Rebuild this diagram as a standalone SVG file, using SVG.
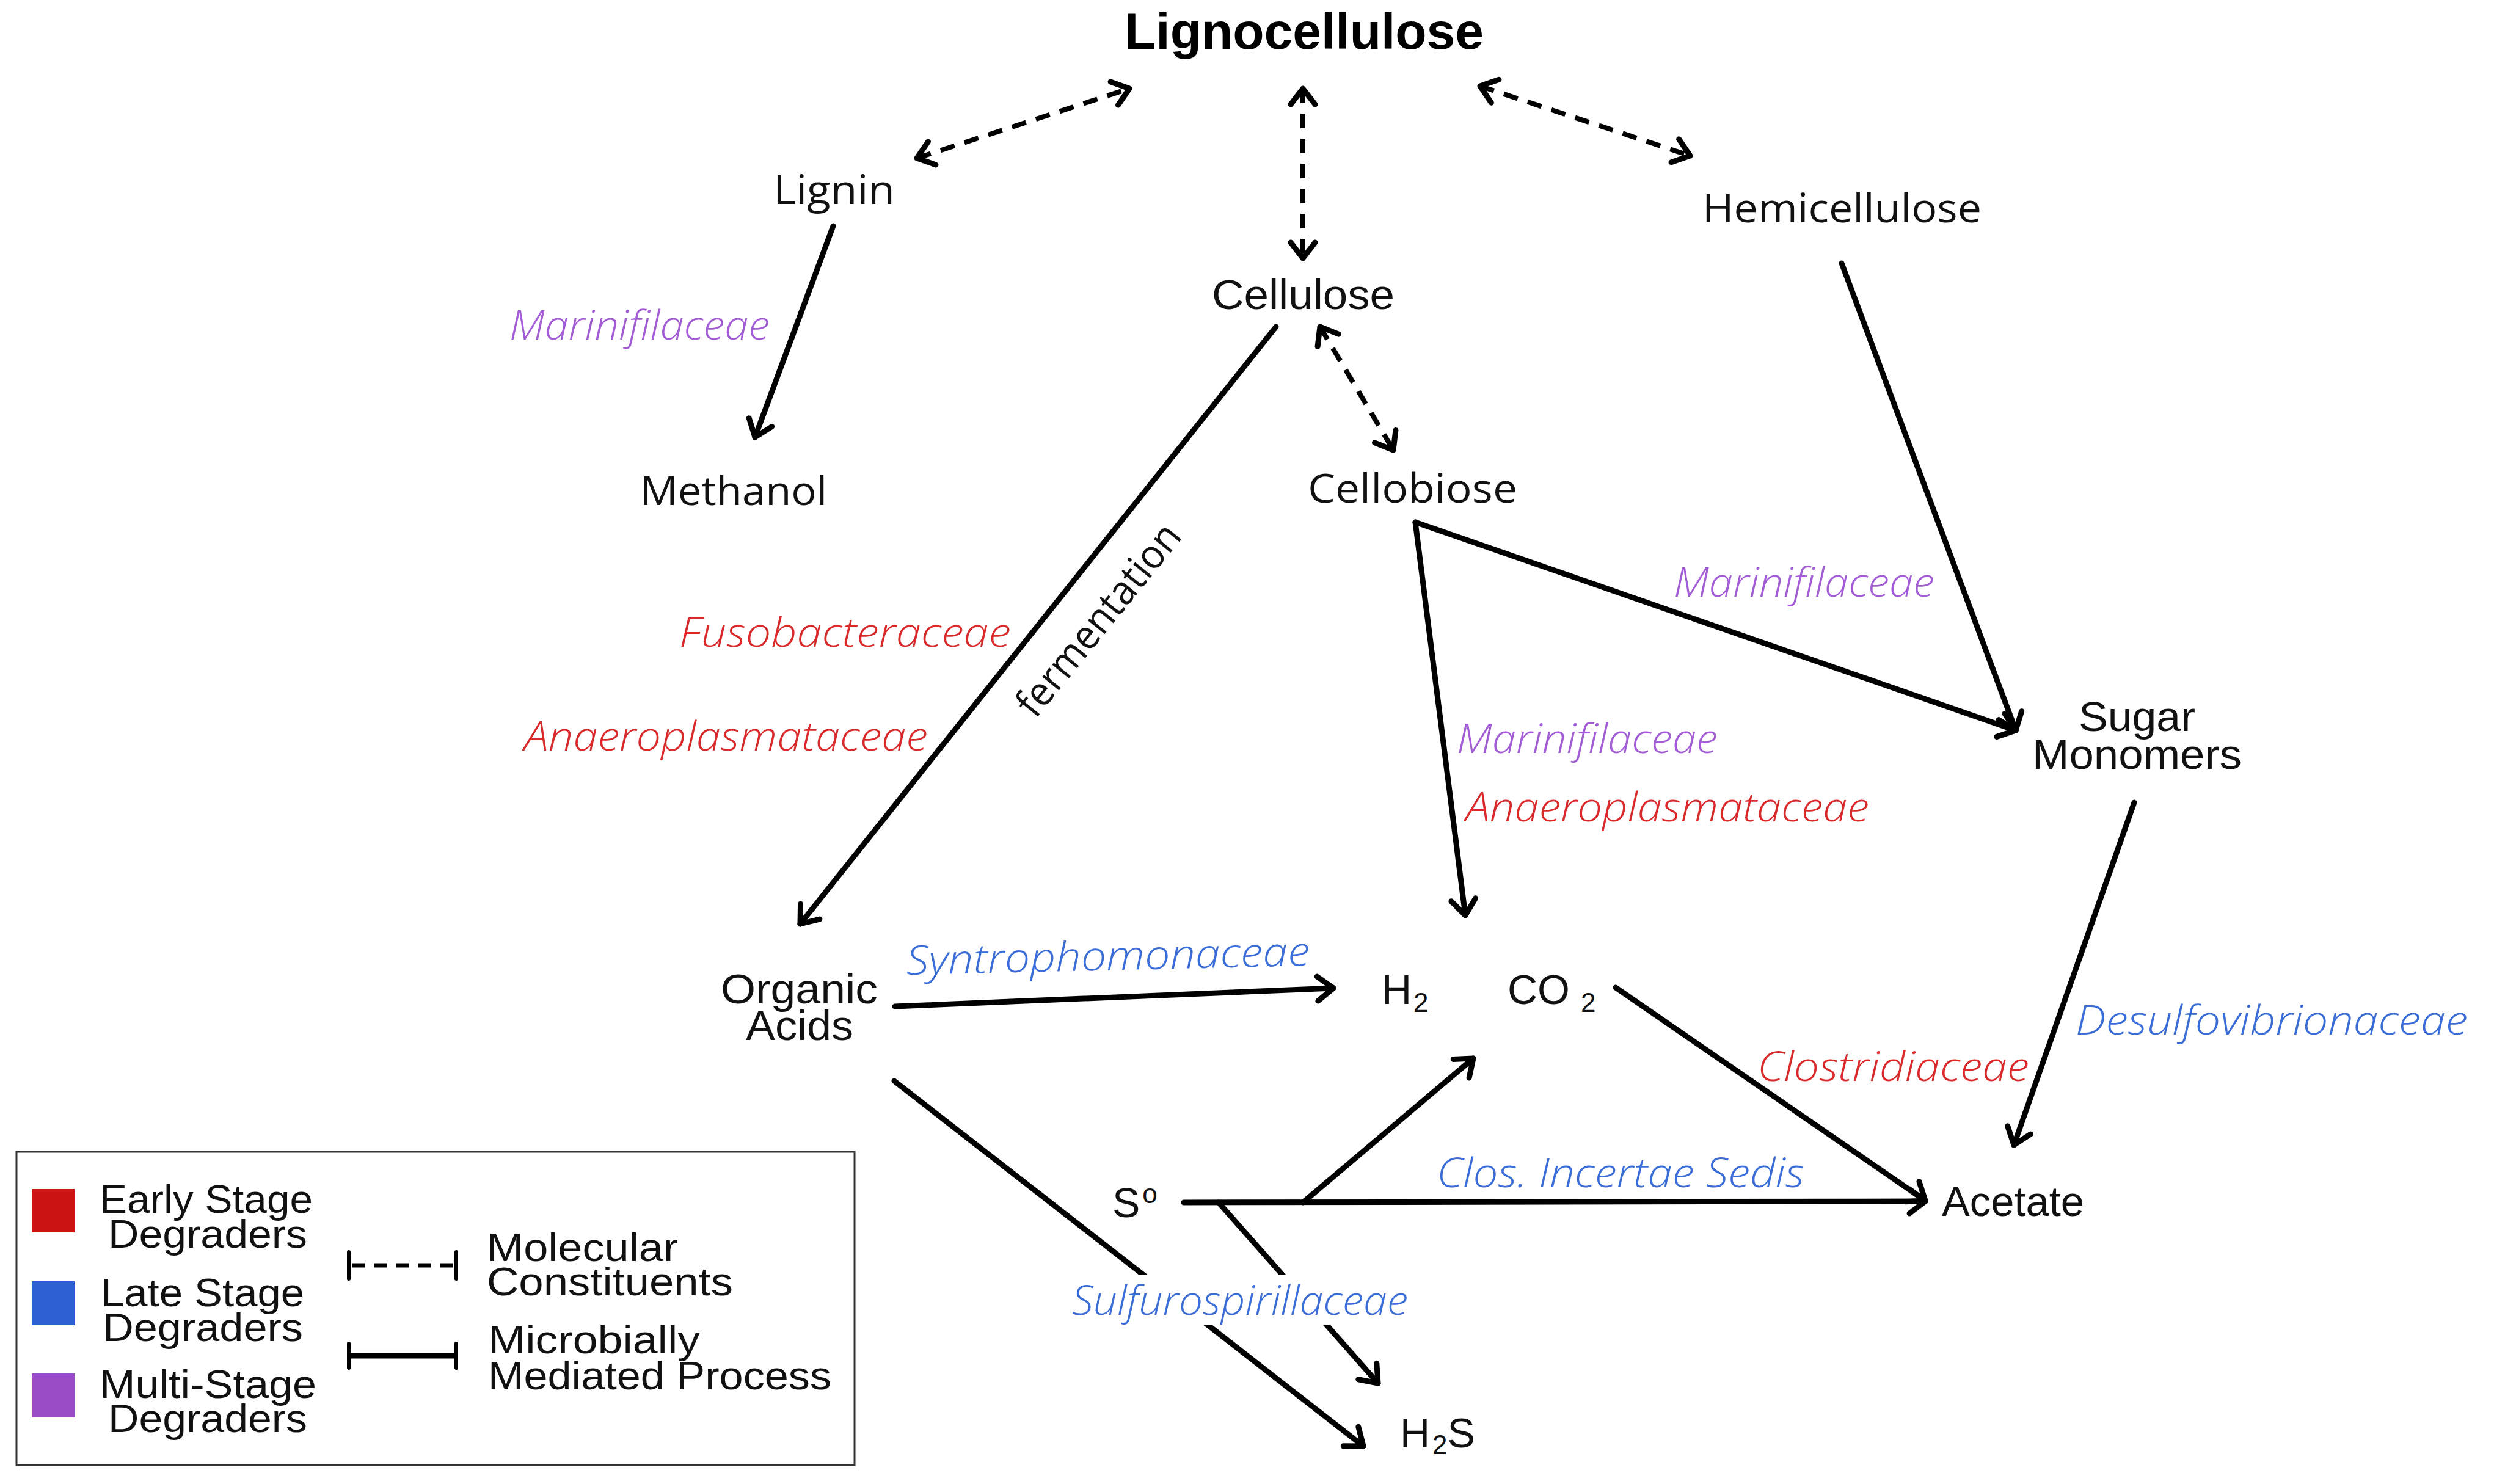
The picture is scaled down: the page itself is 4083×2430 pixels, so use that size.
<svg xmlns="http://www.w3.org/2000/svg" width="4083" height="2430" viewBox="0 0 4083 2430">
<style>
  .bg { fill: #ffffff; }
  .nodeL { font-family: "Liberation Sans", Arial, sans-serif; font-size: 68px; fill: #111; }
  .nodeO { font-family: "Open Sans", "Liberation Sans", sans-serif; font-size: 66px; fill: #111; }
  .title { font-family: "Liberation Sans", Arial, sans-serif; font-size: 84px; font-weight: bold; fill: #000; }
  .sub { font-size: 44px; }
  .lab { font-family: "Open Sans", "Liberation Sans", sans-serif; font-style: italic; font-weight: 300; font-size: 66px; }
  .red { fill: #d9292b; }
  .blue { fill: #3a6dd8; }
  .purple { fill: #a25cd6; }
  .leg { font-family: "Liberation Sans", Arial, sans-serif; font-size: 64px; fill: #111; }
  .solid { fill: none; stroke: #000; stroke-width: 9; stroke-linecap: round; }
  .dash { fill: none; stroke: #000; stroke-width: 8; stroke-dasharray: 24 17; }
  .arrowS { marker-end: url(#ah); }
  .arrowD { marker-start: url(#ah); marker-end: url(#ah); }
</style>
<defs>
  <marker id="ah" viewBox="-40 -30 50 60" markerWidth="50" markerHeight="60" refX="0" refY="0" orient="auto-start-reverse" markerUnits="userSpaceOnUse">
    <path d="M-26,-20 L0,0 L-26,20" fill="none" stroke="#000" stroke-width="9" stroke-linecap="round" stroke-linejoin="round"/>
  </marker>
</defs>
<rect class="bg" x="0" y="0" width="4083" height="2430"/>

<g id="connectors">
  <line class="dash arrowD" x1="1501" y1="259" x2="1849" y2="145"/>
  <line class="dash arrowD" x1="2133" y1="145" x2="2133" y2="423"/>
  <line class="dash arrowD" x1="2423" y1="141" x2="2767" y2="255"/>
  <line class="dash arrowD" x1="2161" y1="535" x2="2281" y2="737"/>

  <line class="solid arrowS" x1="1364" y1="370" x2="1236" y2="716"/>
  <line class="solid arrowS" x1="2089" y1="535" x2="1310" y2="1513"/>
  <line class="solid arrowS" x1="3015" y1="431" x2="3300" y2="1196"/>
  <line class="solid arrowS" x1="2317" y1="855" x2="3300" y2="1196"/>
  <line class="solid arrowS" x1="2317" y1="855" x2="2399" y2="1499"/>
  <line class="solid arrowS" x1="1465" y1="1648" x2="2183" y2="1618"/>
  <line class="solid arrowS" x1="1464" y1="1770" x2="2232" y2="2368"/>
  <line class="solid arrowS" x1="1995" y1="1969" x2="2256" y2="2265"/>
  <line class="solid arrowS" x1="1938" y1="1969" x2="3152" y2="1967"/>
  <line class="solid arrowS" x1="2133" y1="1969" x2="2412" y2="1733"/>
  <line class="solid arrowS" x1="2645" y1="1617" x2="3152" y2="1966"/>
  <line class="solid arrowS" x1="3494" y1="1314" x2="3297" y2="1875"/>
</g>

<g id="node-lignocellulose"><text class="title" x="1841" y="80" textLength="588" lengthAdjust="spacingAndGlyphs">Lignocellulose</text></g>
<g id="node-lignin"><text class="nodeO" x="1266" y="334" textLength="199" lengthAdjust="spacingAndGlyphs">Lignin</text></g>
<g id="node-hemicellulose"><text class="nodeO" x="2787" y="364" textLength="457" lengthAdjust="spacingAndGlyphs">Hemicellulose</text></g>
<g id="node-cellulose"><text class="nodeL" x="1984" y="506" textLength="299" lengthAdjust="spacingAndGlyphs">Cellulose</text></g>
<g id="node-methanol"><text class="nodeO" x="1048" y="827" textLength="306" lengthAdjust="spacingAndGlyphs">Methanol</text></g>
<g id="node-cellobiose"><text class="nodeO" x="2141" y="823" textLength="343" lengthAdjust="spacingAndGlyphs">Cellobiose</text></g>
<g id="node-sugar-monomers">
  <text class="nodeL" x="3403" y="1197" textLength="191" lengthAdjust="spacingAndGlyphs">Sugar</text>
  <text class="nodeL" x="3327" y="1259" textLength="343" lengthAdjust="spacingAndGlyphs">Monomers</text>
</g>
<g id="node-organic-acids">
  <text class="nodeL" x="1180" y="1643" textLength="257" lengthAdjust="spacingAndGlyphs">Organic</text>
  <text class="nodeL" x="1221" y="1703" textLength="176" lengthAdjust="spacingAndGlyphs">Acids</text>
</g>
<g id="node-h2"><text class="nodeL" x="2262" y="1644" font-size="66">H<tspan class="sub" dx="3" dy="13">2</tspan></text></g>
<g id="node-co2"><text class="nodeL" x="2468" y="1644" font-size="66">CO<tspan class="sub" dx="18" dy="13">2</tspan></text></g>
<g id="node-acetate"><text class="nodeL" x="3179" y="1991" textLength="233" lengthAdjust="spacingAndGlyphs">Acetate</text></g>
<g id="node-s0"><text class="nodeL" x="1821" y="1993" font-size="66">S<tspan class="sub" dx="4" dy="-23">o</tspan></text></g>
<g id="node-h2s"><text class="nodeL" x="2292" y="2370" font-size="66">H<tspan class="sub" dx="4" dy="11">2</tspan><tspan dy="-11">S</tspan></text></g>

<g id="labels">
  <text class="lab purple" x="834" y="556" textLength="426" lengthAdjust="spacingAndGlyphs">Marinifilaceae</text>
  <text class="lab red" x="1112" y="1059" textLength="543" lengthAdjust="spacingAndGlyphs">Fusobacteraceae</text>
  <text class="lab red" x="858" y="1229" textLength="661" lengthAdjust="spacingAndGlyphs">Anaeroplasmataceae</text>
  <text class="nodeO" font-size="62" x="1816" y="1029" text-anchor="middle" textLength="385" lengthAdjust="spacingAndGlyphs" transform="rotate(-51 1816 1029)">fermentation</text>
  <text class="lab purple" x="2740" y="977" textLength="427" lengthAdjust="spacingAndGlyphs">Marinifilaceae</text>
  <text class="lab purple" x="2385" y="1233" textLength="427" lengthAdjust="spacingAndGlyphs">Marinifilaceae</text>
  <text class="lab red" x="2399" y="1345" textLength="661" lengthAdjust="spacingAndGlyphs">Anaeroplasmataceae</text>
  <text class="lab blue" x="1484" y="1596" textLength="661" lengthAdjust="spacingAndGlyphs" transform="rotate(-1.3 1484 1596)">Syntrophomonaceae</text>
  <text class="lab blue" x="3398" y="1694" textLength="642" lengthAdjust="spacingAndGlyphs">Desulfovibrionaceae</text>
  <text class="lab red" x="2877" y="1770" textLength="445" lengthAdjust="spacingAndGlyphs">Clostridiaceae</text>
  <text class="lab blue" x="2352" y="1944" textLength="602" lengthAdjust="spacingAndGlyphs">Clos. Incertae Sedis</text>
  <rect x="1748" y="2088" width="566" height="82" fill="#ffffff"/>
  <text class="lab blue" x="1755" y="2153" textLength="550" lengthAdjust="spacingAndGlyphs">Sulfurospirillaceae</text>
</g>

<g id="legend">
  <rect x="27" y="1886" width="1372" height="513" fill="#ffffff" stroke="#333" stroke-width="3"/>
  <rect x="52" y="1947" width="70" height="71" fill="#cc1414"/>
  <rect x="52" y="2098" width="70" height="72" fill="#2d60d2"/>
  <rect x="52" y="2249" width="70" height="72" fill="#9a4cc6"/>
  <text class="leg" x="163" y="1986" textLength="349" lengthAdjust="spacingAndGlyphs">Early Stage</text>
  <text class="leg" x="177" y="2043" textLength="326" lengthAdjust="spacingAndGlyphs">Degraders</text>
  <text class="leg" x="165" y="2139" textLength="333" lengthAdjust="spacingAndGlyphs">Late Stage</text>
  <text class="leg" x="168" y="2196" textLength="328" lengthAdjust="spacingAndGlyphs">Degraders</text>
  <text class="leg" x="163" y="2289" textLength="355" lengthAdjust="spacingAndGlyphs">Multi-Stage</text>
  <text class="leg" x="177" y="2345" textLength="326" lengthAdjust="spacingAndGlyphs">Degraders</text>
  <line x1="576" y1="2072" x2="742" y2="2072" stroke="#000" stroke-width="7" stroke-dasharray="22 14"/>
  <line x1="571" y1="2050" x2="571" y2="2094" stroke="#000" stroke-width="6" stroke-linecap="round"/>
  <line x1="747" y1="2050" x2="747" y2="2094" stroke="#000" stroke-width="6" stroke-linecap="round"/>
  <line x1="571" y1="2220" x2="747" y2="2220" stroke="#000" stroke-width="9"/>
  <line x1="571" y1="2200" x2="571" y2="2240" stroke="#000" stroke-width="6" stroke-linecap="round"/>
  <line x1="747" y1="2200" x2="747" y2="2240" stroke="#000" stroke-width="6" stroke-linecap="round"/>
  <text class="leg" x="797" y="2065" textLength="313" lengthAdjust="spacingAndGlyphs">Molecular</text>
  <text class="leg" x="797" y="2121" textLength="403" lengthAdjust="spacingAndGlyphs">Constituents</text>
  <text class="leg" x="799" y="2216" textLength="347" lengthAdjust="spacingAndGlyphs">Microbially</text>
  <text class="leg" x="799" y="2275" textLength="562" lengthAdjust="spacingAndGlyphs">Mediated Process</text>
</g>
</svg>
